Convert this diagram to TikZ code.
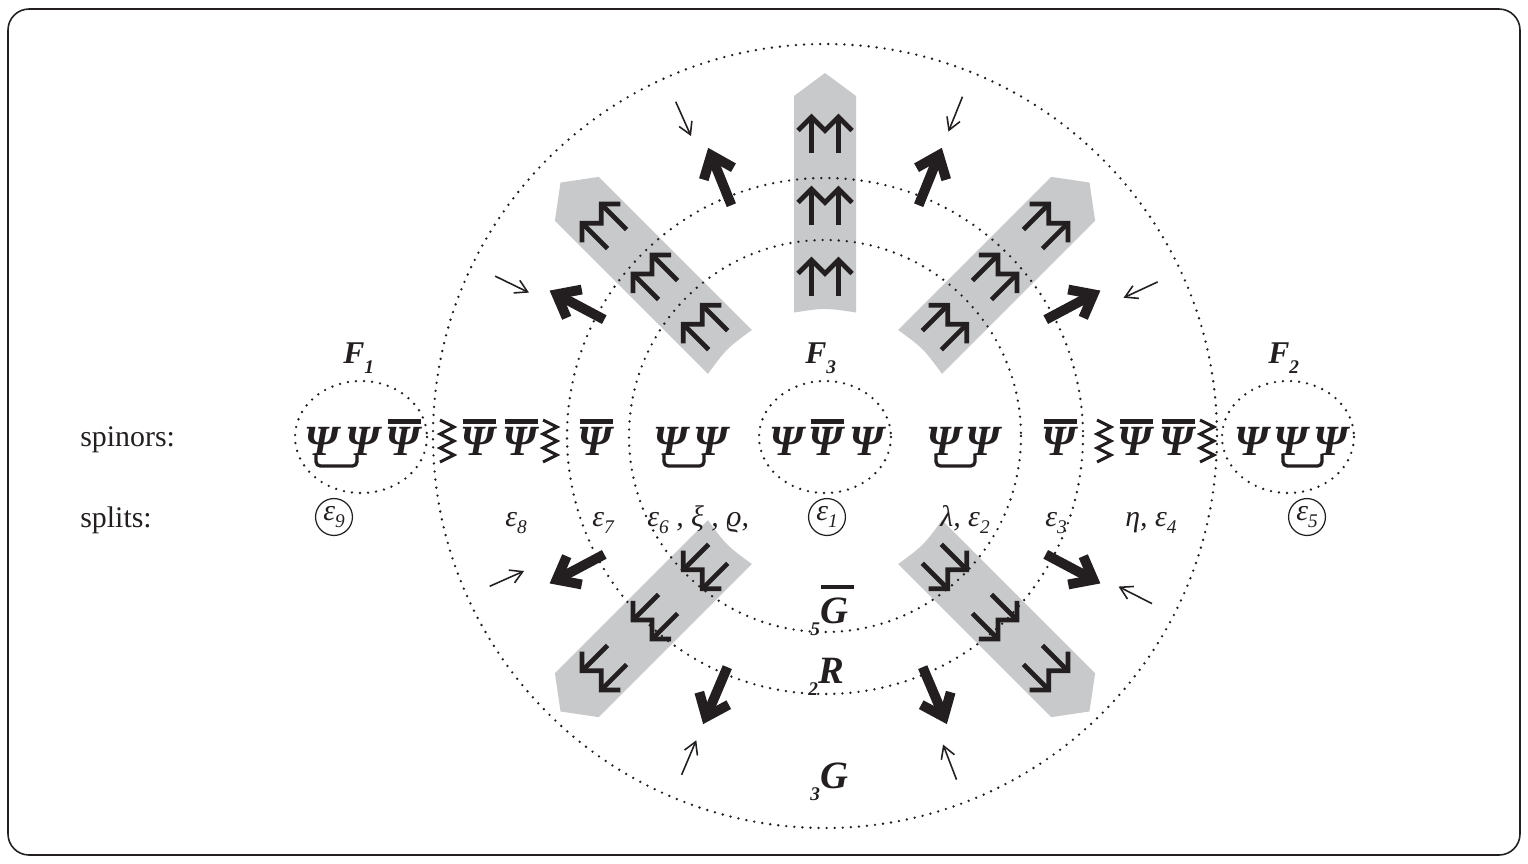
\documentclass[tikz,border=0pt]{standalone}
\usepackage{fontspec}
\setmainfont{Liberation Serif}
\usetikzlibrary{calc}
\definecolor{ink}{RGB}{35,31,32}
\definecolor{bandgray}{RGB}{200,201,203}
\newcommand\lsub[2]{\raisebox{-#1}{\fontsize{11}{11}\selectfont #2}}
\newcommand\barpsi{\setbox0\hbox{Ψ}\rlap{\kern0.06\wd0\rule[0.71em]{0.95\wd0}{0.12em}}\box0}
\newcommand\barG{\setbox0\hbox{G}\rlap{\kern0.03\wd0\rule[0.87em]{1.2\wd0}{0.11em}}\box0}
\begin{document}
\begin{tikzpicture}[x=0.02cm, y=-0.02cm,
  dots/.style={draw=ink, line width=1.5pt, line cap=round, dash pattern=on 0pt off 4.6pt},
  frame/.style={draw=ink, line width=0.9pt, rounded corners=12pt},
  bandshape/.style={fill=bandgray},
  glyph/.style={draw=ink, line width=2.7pt, line join=miter},
  fatarrow/.style={draw=ink, line width=5.6pt, line join=miter},
  thinarrow/.style={draw=ink, line width=0.9pt, line join=miter},
  zz/.style={draw=ink, line width=1.7pt, line join=miter},
  brace/.style={draw=ink, line width=1.9pt, rounded corners=2.5pt},
  psi/.style={font=\fontsize{24.5}{28}\selectfont\bfseries\itshape, text=ink, inner sep=0pt, anchor=base},
  lab/.style={font=\fontsize{17}{20}\selectfont, text=ink, inner sep=0pt, anchor=base west},
  eps/.style={font=\fontsize{17}{20}\selectfont\itshape, text=ink, inner sep=0pt, anchor=base west},
  circeps/.style={eps, anchor=center, circle, draw=ink, line width=0.7pt, minimum size=21pt},
  flab/.style={font=\fontsize{18}{20}\selectfont\bfseries\itshape, text=ink, inner sep=0pt, anchor=base west},
  glab/.style={font=\fontsize{22}{24}\selectfont\bfseries\itshape, text=ink, inner sep=0pt, anchor=base west}
]
\useasboundingbox (0,0) rectangle (1528,863);
\draw[frame] (8,9) rectangle (1520,855);

% gray bands
\foreach \a in {0,45,-45,135,-135}{
  \begin{scope}[shift={(825,447)}, rotate=\a]
    \path[bandshape] (-31,-134.5) .. controls (0,-139.2) .. (31,-134.5) -- (31,-351) -- (0,-374) -- (-31,-351) -- cycle;
  \end{scope}
}

% dotted circles
\draw[dots] (825,436) circle[radius=196];
\draw[dots] (825,436) circle[radius=258];
\draw[dots] (825,436) circle[radius=392];
\draw[dots] (361,437) ellipse[x radius=66, y radius=56];
\draw[dots] (825,437) ellipse[x radius=66, y radius=56];
\draw[dots] (1288,437) ellipse[x radius=66, y radius=56];

% double arrows inside bands
\foreach \a in {0,45,-45,135,-135}{
  \begin{scope}[shift={(825,447)}, rotate=\a]
    \foreach \t in {-330,-258,-187}{
      \draw[glyph] (-27,\t+13.5) -- (-13.5,\t) -- (0,\t+13.5) -- (13.5,\t) -- (27,\t+13.5);
      \draw[glyph] (-13.5,\t) -- (-13.5,\t+36) (13.5,\t) -- (13.5,\t+36);
    }
  \end{scope}
}

% thick outward arrows
\foreach \a in {28,68,112,152,208,247,293,332}{
  \begin{scope}[shift={(825,437)}, rotate=\a-90]
    \draw[fatarrow] (0,-250) -- (0,-298);
    \draw[fatarrow] (-16,-284) -- (0,-304) -- (16,-284);
  \end{scope}
}

% thin inward arrows
\foreach \a in {25,68,114,154,204,247,291,333}{
  \begin{scope}[shift={(825,437)}, rotate=\a-90]
    \draw[thinarrow] (0,-367) -- (0,-331);
    \draw[thinarrow] (-7,-343) -- (0,-331) -- (7,-343);
  \end{scope}
}

% zigzags
\foreach \x in {440,543,1097,1200}{
  \draw[zz] (\x,420) -- (\x+14,427) -- (\x,434) -- (\x+14,441) -- (\x,448) -- (\x+14,455) -- (\x,462);
}

% row labels
\node[lab] (spin) at (80,446) {spinors:};
\node[lab] (spl) at (80,527) {splits:};

% spinors
\node[psi] (a1) at (322,455) {Ψ};
\node[psi] (a2) at (363,455) {Ψ};
\node[psi] (a3) at (403,455) {\barpsi};
\node[psi] (b1) at (478,455) {\barpsi};
\node[psi] (b2) at (520,455) {\barpsi};
\node[psi] (b3) at (595,455) {\barpsi};
\node[psi] (c1) at (671,455) {Ψ};
\node[psi] (c2) at (711,455) {Ψ};
\node[psi] (d1) at (787,455) {Ψ};
\node[psi] (d2) at (826,455) {\barpsi};
\node[psi] (d3) at (867,455) {Ψ};
\node[psi] (g1) at (944,455) {Ψ};
\node[psi] (g2) at (983,455) {Ψ};
\node[psi] (h1) at (1059,455) {\barpsi};
\node[psi] (h2) at (1135,455) {\barpsi};
\node[psi] (h3) at (1177,455) {\barpsi};
\node[psi] (k1) at (1252,455) {Ψ};
\node[psi] (k2) at (1291,455) {Ψ};
\node[psi] (k3) at (1331,455) {Ψ};

% braces
\draw[brace] ($(a1.base)+(-6,-1)$) -- ($(a1.base)+(-6,11)$) -- ($(a2.base)+(-6,11)$) -- ($(a2.base)+(-6,-1)$);
\draw[brace] ($(c1.base)+(-7,-1)$) -- ($(c1.base)+(-7,11)$) -- ($(c2.base)+(-7,11)$) -- ($(c2.base)+(-7,-1)$);
\draw[brace] ($(g1.base)+(-8,-1)$) -- ($(g1.base)+(-8,11)$) -- ($(g2.base)+(-8,11)$) -- ($(g2.base)+(-8,-1)$);
\draw[brace] ($(k2.base)+(-8,-1)$) -- ($(k2.base)+(-8,11)$) -- ($(k3.base)+(-9,11)$) -- ($(k3.base)+(-9,-1)$);

% F labels
\node[flab] (f1) at (343,363) {F\lsub{6pt}{1}};
\node[flab] (f3) at (805,363) {F\lsub{6pt}{3}};
\node[flab] (f2) at (1268,363) {F\lsub{6pt}{2}};

% splits
\node[circeps] (e9) at (334,517) {ε\lsub{4pt}{9}};
\node[eps] (e8) at (505,526) {ε\lsub{4pt}{8}};
\node[eps] (e7) at (592,526) {ε\lsub{4pt}{7}};
\node[eps] (e6) at (647,526) {ε\lsub{4pt}{6} , ξ , ϱ,};
\node[circeps] (e1) at (827,517) {ε\lsub{4pt}{1}};
\node[eps] (e2) at (940,526) {λ, ε\lsub{4pt}{2}};
\node[eps] (e3) at (1045,526) {ε\lsub{4pt}{3}};
\node[eps] (e4) at (1125,526) {η, ε\lsub{4pt}{4}};
\node[circeps] (e5) at (1307,517) {ε\lsub{4pt}{5}};

% group labels
\node[glab] (g5) at (810,623) {\lsub{7pt}{5}\barG};
\node[glab] (r2) at (808,683) {\lsub{7pt}{2}R};
\node[glab] (g3) at (810,788) {\lsub{7pt}{3}G};
\end{tikzpicture}
\end{document}
